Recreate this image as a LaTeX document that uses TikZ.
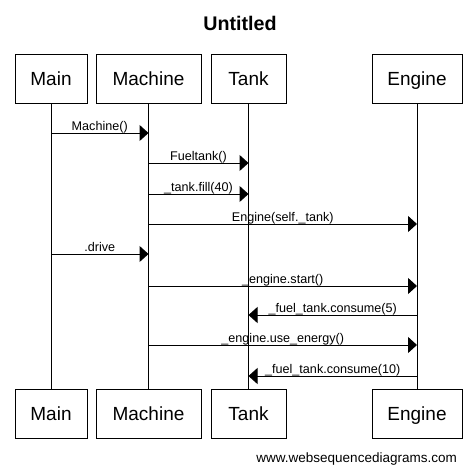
\documentclass[tikz,border=0pt]{standalone}
\usepackage{fontspec}
\setmainfont{Liberation Sans}
\usetikzlibrary{arrows.meta}
\begin{document}
\begin{tikzpicture}[x=1pt,y=-1pt,
  actor/.style={draw,line width=1pt,minimum height=49pt,inner sep=0pt,text height=13.6pt,text depth=0pt,font=\fontsize{19}{19}\selectfont},
  life/.style={line width=1pt},
  msg/.style={line width=1pt,-{Triangle[length=9pt,width=16pt]}},
  lbl/.style={anchor=base,inner sep=0pt,yshift=2.2pt,font=\fontsize{12.6}{12.6}\selectfont}]
\useasboundingbox (0,0) rectangle (476,472);
\fill[white] (0,0) rectangle (476,472);
\node[anchor=base,font=\bfseries\fontsize{19.7}{19.7}\selectfont] (title) at (240,30) {Untitled};
% top actors
\node[actor,minimum width=72pt] (mainT) at (51,78.5) {Main};
\node[actor,minimum width=105pt] (machT) at (148.5,78.5) {Machine};
\node[actor,minimum width=75pt] (tankT) at (248.5,78.5) {Tank};
\node[actor,minimum width=90pt] (engT) at (417,78.5) {Engine};
% bottom actors
\node[actor,minimum width=72pt] (mainB) at (51,413.5) {Main};
\node[actor,minimum width=105pt] (machB) at (148.5,413.5) {Machine};
\node[actor,minimum width=75pt] (tankB) at (248.5,413.5) {Tank};
\node[actor,minimum width=90pt] (engB) at (417,413.5) {Engine};
% lifelines
\draw[life] (mainT) -- (mainB);
\draw[life] (machT) -- (machB);
\draw[life] (tankT) -- (tankB);
\draw[life] (engT) -- (engB);
% rows
\coordinate (r1) at (0,133);
\coordinate (r2) at (0,163);
\coordinate (r3) at (0,194);
\coordinate (r4) at (0,224);
\coordinate (r5) at (0,254);
\coordinate (r6) at (0,286);
\coordinate (r7) at (0,315);
\coordinate (r8) at (0,345);
\coordinate (r9) at (0,376);
% messages
\draw[msg] (mainT |- r1) -- node[lbl] {Machine()} (machT |- r1);
\draw[msg] (machT |- r2) -- node[lbl] {Fueltank()} (tankT |- r2);
\draw[msg] (machT |- r3) -- node[lbl] {\_tank.fill(40)} (tankT |- r3);
\draw[msg] (machT |- r4) -- node[lbl] {Engine(self.\_tank)} (engT |- r4);
\draw[msg] (mainT |- r5) -- node[lbl] {.drive} (machT |- r5);
\draw[msg] (machT |- r6) -- node[lbl] {\_engine.start()} (engT |- r6);
\draw[msg] (engT |- r7) -- node[lbl] {\_fuel\_tank.consume(5)} (tankT |- r7);
\draw[msg] (machT |- r8) -- node[lbl] {\_engine.use\_energy()} (engT |- r8);
\draw[msg] (engT |- r9) -- node[lbl] {\_fuel\_tank.consume(10)} (tankT |- r9);
\node[anchor=base east,inner sep=0pt,font=\fontsize{13.5}{13.5}\selectfont] (footer) at (457,462) {www.websequencediagrams.com};
\end{tikzpicture}
\end{document}
